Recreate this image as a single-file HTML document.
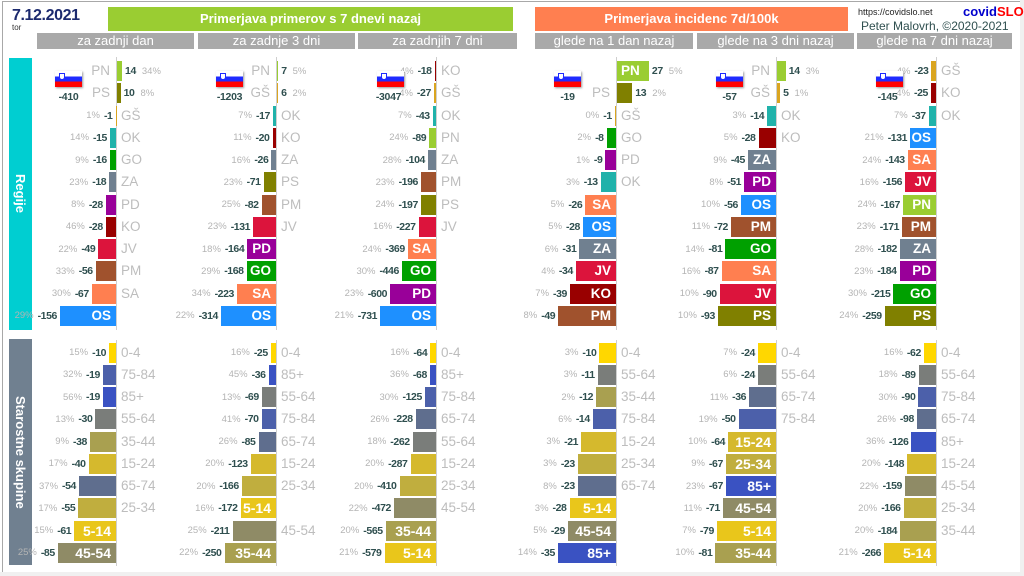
<!DOCTYPE html>
<html><head><meta charset="utf-8"><style>
*{margin:0;padding:0}
html,body{width:1024px;height:576px;overflow:hidden;background:#f0f0f0;font-family:"Liberation Sans",sans-serif}
#pg{position:absolute;left:0;top:0;width:1020px;height:572px;background:#fff}
#fr{position:absolute;left:2px;top:1px;width:1018px;height:571px;border-top:1px solid #a8a8a8;border-left:1px solid #a8a8a8;box-sizing:border-box}
.hd{position:absolute;top:7px;height:24px;color:#fff;font-weight:bold;font-size:13px;line-height:24px;text-align:center}
.sh{position:absolute;top:33px;height:16px;background:#a9a9a9;color:#fff;font-size:13px;line-height:16px;text-align:center}
.ax{position:absolute;width:1px;background:#cfcfcf}
.vb{position:absolute;left:9px;width:23px;display:flex;align-items:center;justify-content:center}
.vb span{writing-mode:vertical-rl;color:#fff;font-weight:bold;font-size:13px}
.col{position:absolute;width:0}
.rw{position:relative;height:22.25px}
.L,.R{position:absolute;top:0;height:20px;display:flex;align-items:center;white-space:nowrap}
.L{right:0}.R{left:1px}
.L i,.R i{font-style:normal;color:#b4b4b4;font-size:9.5px}
.L b,.R b{color:#2f4f4f;font-size:10.5px;letter-spacing:-0.4px}
.L i{margin-right:4px}.L b{margin-right:3px}
.R b{margin-left:3px}.R i{margin-left:6px}
s{text-decoration:none;display:block;height:20px;color:#fff;font-weight:bold;font-size:13.5px;line-height:20px;box-sizing:border-box;overflow:visible;white-space:nowrap}
.L s{text-align:right}
.L s:not(:empty){padding-right:5px}
.R s:not(:empty){padding-left:4px;text-align:left}
.rw u{position:absolute;left:5px;top:0;line-height:20px;color:#bdbdbd;font-size:13.5px;text-decoration:none;white-space:nowrap}
.rw u.l{left:auto;right:6px}
.ag s{font-size:14px}
.pn{background:#9acd32}.ps{background:#808000}.gs{background:#daa520}.ok{background:#20b2aa}.go{background:#00a000}.za{background:#708090}.pd{background:#990099}.ko{background:#990000}.jv{background:#dc143c}.pm{background:#a0522d}.sa{background:#ff7f50}.os{background:#1e90ff}
.a0{background:#ffd700}.a1{background:#e9c61b}.a2{background:#d5b92d}.a3{background:#c0ae3e}.a4{background:#a9a050}.a5{background:#8f8b66}.a6{background:#7a7d7a}.a7{background:#5f6e8e}.a8{background:#4c60aa}.a9{background:#3a52c2}
.fl{position:absolute;top:71px;width:27px;height:16px;background:linear-gradient(#fff 0,#fff 33%,#1f2bff 33%,#1f2bff 66%,#f00 66%);box-shadow:1px 1px 2px rgba(0,0,0,.4);z-index:3}
.ca{position:absolute;left:4px;top:2px;width:4px;height:5px;background:#fff;border:1px solid #1f2bff;border-radius:0 0 3px 3px}
.fn{position:absolute;top:91px;width:47px;text-align:center;font-weight:bold;font-size:10.5px;color:#2f4f4f;letter-spacing:-0.3px;z-index:3}
</style></head><body>
<div id="pg"></div><div id="fr"></div>

<div style="position:absolute;left:12px;top:7px;font-weight:bold;font-size:16px;color:#1c2a6e;letter-spacing:-0.4px">7.12.2021</div>
<div style="position:absolute;left:12px;top:23px;font-size:8px;color:#333">tor</div>

<div class="hd" style="left:108px;width:405px;background:#9acd32">Primerjava primerov s 7 dnevi nazaj</div>
<div class="hd" style="left:535px;width:313px;background:#ff7f50">Primerjava incidenc 7d/100k</div>

<div class="sh" style="left:37px;width:157px">za zadnji dan</div>
<div class="sh" style="left:198px;width:157px">za zadnje 3 dni</div>
<div class="sh" style="left:358px;width:159px">za zadnjih 7 dni</div>
<div class="sh" style="left:535px;width:158px">glede na 1 dan nazaj</div>
<div class="sh" style="left:697px;width:157px">glede na 3 dni nazaj</div>
<div class="sh" style="left:857px;width:155px">glede na 7 dni nazaj</div>

<div style="position:absolute;left:858px;top:7px;font-size:9px;color:#222">https://covidslo.net</div>
<div style="position:absolute;left:963px;top:4px;font-size:13px;font-weight:bold"><span style="color:#0000cd">covid</span><span style="color:#f00">SLO</span></div>
<div style="position:absolute;left:861px;top:19px;font-size:12px;color:#2f4f4f">Peter Malovrh, ©2020-2021</div>

<div class="vb" style="top:58px;height:272px;background:#00ced1"><span>Regije</span></div>
<div class="vb" style="top:339px;height:226px;background:#708090"><span>Starostne skupine</span></div>

<!-- axis lines -->
<div class="ax" style="left:116px;top:57px;height:273px"></div>
<div class="ax" style="left:276px;top:57px;height:273px"></div>
<div class="ax" style="left:436px;top:57px;height:273px"></div>
<div class="ax" style="left:616px;top:57px;height:273px"></div>
<div class="ax" style="left:776px;top:57px;height:273px"></div>
<div class="ax" style="left:936px;top:57px;height:273px"></div>
<div class="ax" style="left:116px;top:340px;height:226px"></div>
<div class="ax" style="left:276px;top:340px;height:226px"></div>
<div class="ax" style="left:436px;top:340px;height:226px"></div>
<div class="ax" style="left:616px;top:340px;height:226px"></div>
<div class="ax" style="left:776px;top:340px;height:226px"></div>
<div class="ax" style="left:936px;top:340px;height:226px"></div>

<!-- flags -->
<div class="fl" style="left:55px"><div class="ca"></div></div><div class="fn" style="left:45px">-410</div>
<div class="fl" style="left:216px"><div class="ca"></div></div><div class="fn" style="left:206px">-1203</div>
<div class="fl" style="left:377px"><div class="ca"></div></div><div class="fn" style="left:365px">-3047</div>
<div class="fl" style="left:554px"><div class="ca"></div></div><div class="fn" style="left:544px">-19</div>
<div class="fl" style="left:716px"><div class="ca"></div></div><div class="fn" style="left:706px">-57</div>
<div class="fl" style="left:876px"><div class="ca"></div></div><div class="fn" style="left:864px">-145</div>

<!-- P1 regions -->
<div class="col" style="left:116px;top:61px">
<div class="rw"><div class="R"><s class="pn" style="width:5px"></s><b>14</b><i>34%</i></div><u class="l">PN</u></div>
<div class="rw"><div class="R"><s class="ps" style="width:3.6px"></s><b>10</b><i>8%</i></div><u class="l">PS</u></div>
<div class="rw"><div class="L"><i>1%</i><b>-1</b><s class="gs" style="width:0.5px"></s></div><u>GŠ</u></div>
<div class="rw"><div class="L"><i>14%</i><b>-15</b><s class="ok" style="width:6px"></s></div><u>OK</u></div>
<div class="rw"><div class="L"><i>9%</i><b>-16</b><s class="go" style="width:6.2px"></s></div><u>GO</u></div>
<div class="rw"><div class="L"><i>23%</i><b>-18</b><s class="za" style="width:6.8px"></s></div><u>ZA</u></div>
<div class="rw"><div class="L"><i>8%</i><b>-28</b><s class="pd" style="width:10.2px"></s></div><u>PD</u></div>
<div class="rw"><div class="L"><i>46%</i><b>-28</b><s class="ko" style="width:10.2px"></s></div><u>KO</u></div>
<div class="rw"><div class="L"><i>22%</i><b>-49</b><s class="jv" style="width:17.7px"></s></div><u>JV</u></div>
<div class="rw"><div class="L"><i>33%</i><b>-56</b><s class="pm" style="width:20.3px"></s></div><u>PM</u></div>
<div class="rw"><div class="L"><i>30%</i><b>-67</b><s class="sa" style="width:24.2px"></s></div><u>SA</u></div>
<div class="rw"><div class="L"><i>29%</i><b>-156</b><s class="os" style="width:56px">OS</s></div></div>
</div>

<!-- P2 regions -->
<div class="col" style="left:276px;top:61px">
<div class="rw"><div class="R"><s class="pn" style="width:1.2px"></s><b>7</b><i>5%</i></div><u class="l">PN</u></div>
<div class="rw"><div class="R"><s class="gs" style="width:1.1px"></s><b>6</b><i>2%</i></div><u class="l">GŠ</u></div>
<div class="rw"><div class="L"><i>7%</i><b>-17</b><s class="ok" style="width:3px"></s></div><u>OK</u></div>
<div class="rw"><div class="L"><i>11%</i><b>-20</b><s class="ko" style="width:3.5px"></s></div><u>KO</u></div>
<div class="rw"><div class="L"><i>16%</i><b>-26</b><s class="za" style="width:4.6px"></s></div><u>ZA</u></div>
<div class="rw"><div class="L"><i>23%</i><b>-71</b><s class="ps" style="width:12.4px"></s></div><u>PS</u></div>
<div class="rw"><div class="L"><i>25%</i><b>-82</b><s class="pm" style="width:14.4px"></s></div><u>PM</u></div>
<div class="rw"><div class="L"><i>23%</i><b>-131</b><s class="jv" style="width:22.9px"></s></div><u>JV</u></div>
<div class="rw"><div class="L"><i>18%</i><b>-164</b><s class="pd" style="width:28.7px">PD</s></div></div>
<div class="rw"><div class="L"><i>29%</i><b>-168</b><s class="go" style="width:29.4px">GO</s></div></div>
<div class="rw"><div class="L"><i>34%</i><b>-223</b><s class="sa" style="width:39px">SA</s></div></div>
<div class="rw"><div class="L"><i>22%</i><b>-314</b><s class="os" style="width:55px">OS</s></div></div>
</div>

<!-- P3 regions -->
<div class="col" style="left:436px;top:61px">
<div class="rw"><div class="L"><i>4%</i><b>-18</b><s class="ko" style="width:1.4px"></s></div><u>KO</u></div>
<div class="rw"><div class="L"><i>4%</i><b>-27</b><s class="gs" style="width:2.1px"></s></div><u>GŠ</u></div>
<div class="rw"><div class="L"><i>7%</i><b>-43</b><s class="ok" style="width:3.3px"></s></div><u>OK</u></div>
<div class="rw"><div class="L"><i>24%</i><b>-89</b><s class="pn" style="width:6.8px"></s></div><u>PN</u></div>
<div class="rw"><div class="L"><i>28%</i><b>-104</b><s class="za" style="width:8px"></s></div><u>ZA</u></div>
<div class="rw"><div class="L"><i>23%</i><b>-196</b><s class="pm" style="width:15px"></s></div><u>PM</u></div>
<div class="rw"><div class="L"><i>24%</i><b>-197</b><s class="ps" style="width:15.1px"></s></div><u>PS</u></div>
<div class="rw"><div class="L"><i>16%</i><b>-227</b><s class="jv" style="width:17.4px"></s></div><u>JV</u></div>
<div class="rw"><div class="L"><i>24%</i><b>-369</b><s class="sa" style="width:28.2px">SA</s></div></div>
<div class="rw"><div class="L"><i>30%</i><b>-446</b><s class="go" style="width:34.1px">GO</s></div></div>
<div class="rw"><div class="L"><i>23%</i><b>-600</b><s class="pd" style="width:45.9px">PD</s></div></div>
<div class="rw"><div class="L"><i>21%</i><b>-731</b><s class="os" style="width:55.9px">OS</s></div></div>
</div>

<!-- P4 regions -->
<div class="col" style="left:616px;top:61px">
<div class="rw"><div class="R"><s class="pn" style="width:31.9px">PN</s><b>27</b><i>5%</i></div></div>
<div class="rw"><div class="R"><s class="ps" style="width:15.3px"></s><b>13</b><i>2%</i></div><u class="l">PS</u></div>
<div class="rw"><div class="L"><i>0%</i><b>-1</b><s class="gs" style="width:1.2px"></s></div><u>GŠ</u></div>
<div class="rw"><div class="L"><i>2%</i><b>-8</b><s class="go" style="width:9.4px"></s></div><u>GO</u></div>
<div class="rw"><div class="L"><i>1%</i><b>-9</b><s class="pd" style="width:10.6px"></s></div><u>PD</u></div>
<div class="rw"><div class="L"><i>3%</i><b>-13</b><s class="ok" style="width:15.3px"></s></div><u>OK</u></div>
<div class="rw"><div class="L"><i>5%</i><b>-26</b><s class="sa" style="width:30.7px">SA</s></div></div>
<div class="rw"><div class="L"><i>5%</i><b>-28</b><s class="os" style="width:33px">OS</s></div></div>
<div class="rw"><div class="L"><i>6%</i><b>-31</b><s class="za" style="width:36.6px">ZA</s></div></div>
<div class="rw"><div class="L"><i>4%</i><b>-34</b><s class="jv" style="width:40.1px">JV</s></div></div>
<div class="rw"><div class="L"><i>7%</i><b>-39</b><s class="ko" style="width:46px">KO</s></div></div>
<div class="rw"><div class="L"><i>8%</i><b>-49</b><s class="pm" style="width:57.8px">PM</s></div></div>
</div>

<!-- P5 regions -->
<div class="col" style="left:776px;top:61px">
<div class="rw"><div class="R"><s class="pn" style="width:8.75px"></s><b>14</b><i>3%</i></div><u class="l">PN</u></div>
<div class="rw"><div class="R"><s class="gs" style="width:3.1px"></s><b>5</b><i>1%</i></div><u class="l">GŠ</u></div>
<div class="rw"><div class="L"><i>3%</i><b>-14</b><s class="ok" style="width:8.75px"></s></div><u>OK</u></div>
<div class="rw"><div class="L"><i>5%</i><b>-28</b><s class="ko" style="width:17.5px"></s></div><u>KO</u></div>
<div class="rw"><div class="L"><i>9%</i><b>-45</b><s class="za" style="width:28.1px">ZA</s></div></div>
<div class="rw"><div class="L"><i>8%</i><b>-51</b><s class="pd" style="width:31.9px">PD</s></div></div>
<div class="rw"><div class="L"><i>10%</i><b>-56</b><s class="os" style="width:35px">OS</s></div></div>
<div class="rw"><div class="L"><i>11%</i><b>-72</b><s class="pm" style="width:45px">PM</s></div></div>
<div class="rw"><div class="L"><i>14%</i><b>-81</b><s class="go" style="width:50.6px">GO</s></div></div>
<div class="rw"><div class="L"><i>16%</i><b>-87</b><s class="sa" style="width:54.4px">SA</s></div></div>
<div class="rw"><div class="L"><i>10%</i><b>-90</b><s class="jv" style="width:56.25px">JV</s></div></div>
<div class="rw"><div class="L"><i>10%</i><b>-93</b><s class="ps" style="width:58.1px">PS</s></div></div>
</div>

<!-- P6 regions -->
<div class="col" style="left:936px;top:61px">
<div class="rw"><div class="L"><i>4%</i><b>-23</b><s class="gs" style="width:4.6px"></s></div><u>GŠ</u></div>
<div class="rw"><div class="L"><i>4%</i><b>-25</b><s class="ko" style="width:5px"></s></div><u>KO</u></div>
<div class="rw"><div class="L"><i>7%</i><b>-37</b><s class="ok" style="width:7.3px"></s></div><u>OK</u></div>
<div class="rw"><div class="L"><i>21%</i><b>-131</b><s class="os" style="width:25.9px">OS</s></div></div>
<div class="rw"><div class="L"><i>24%</i><b>-143</b><s class="sa" style="width:28.3px">SA</s></div></div>
<div class="rw"><div class="L"><i>16%</i><b>-156</b><s class="jv" style="width:30.9px">JV</s></div></div>
<div class="rw"><div class="L"><i>24%</i><b>-167</b><s class="pn" style="width:33.1px">PN</s></div></div>
<div class="rw"><div class="L"><i>23%</i><b>-171</b><s class="pm" style="width:33.9px">PM</s></div></div>
<div class="rw"><div class="L"><i>28%</i><b>-182</b><s class="za" style="width:36px">ZA</s></div></div>
<div class="rw"><div class="L"><i>23%</i><b>-184</b><s class="pd" style="width:36.4px">PD</s></div></div>
<div class="rw"><div class="L"><i>30%</i><b>-215</b><s class="go" style="width:42.6px">GO</s></div></div>
<div class="rw"><div class="L"><i>24%</i><b>-259</b><s class="ps" style="width:51.3px">PS</s></div></div>
</div>

<!-- P1 ages -->
<div class="col ag" style="left:116px;top:342.7px">
<div class="rw"><div class="L"><i>15%</i><b>-10</b><s class="a0" style="width:6.9px"></s></div><u>0-4</u></div>
<div class="rw"><div class="L"><i>32%</i><b>-19</b><s class="a8" style="width:13px"></s></div><u>75-84</u></div>
<div class="rw"><div class="L"><i>56%</i><b>-19</b><s class="a9" style="width:13px"></s></div><u>85+</u></div>
<div class="rw"><div class="L"><i>13%</i><b>-30</b><s class="a6" style="width:20.6px"></s></div><u>55-64</u></div>
<div class="rw"><div class="L"><i>9%</i><b>-38</b><s class="a4" style="width:26px"></s></div><u>35-44</u></div>
<div class="rw"><div class="L"><i>17%</i><b>-40</b><s class="a2" style="width:27.4px"></s></div><u>15-24</u></div>
<div class="rw"><div class="L"><i>37%</i><b>-54</b><s class="a7" style="width:37px"></s></div><u>65-74</u></div>
<div class="rw"><div class="L"><i>17%</i><b>-55</b><s class="a3" style="width:37.7px"></s></div><u>25-34</u></div>
<div class="rw"><div class="L"><i>15%</i><b>-61</b><s class="a1" style="width:41.8px">5-14</s></div></div>
<div class="rw"><div class="L"><i>25%</i><b>-85</b><s class="a5" style="width:58.2px">45-54</s></div></div>
</div>

<!-- P2 ages -->
<div class="col ag" style="left:276px;top:342.7px">
<div class="rw"><div class="L"><i>16%</i><b>-25</b><s class="a0" style="width:5.2px"></s></div><u>0-4</u></div>
<div class="rw"><div class="L"><i>45%</i><b>-36</b><s class="a9" style="width:7.4px"></s></div><u>85+</u></div>
<div class="rw"><div class="L"><i>13%</i><b>-69</b><s class="a6" style="width:14.2px"></s></div><u>55-64</u></div>
<div class="rw"><div class="L"><i>41%</i><b>-70</b><s class="a8" style="width:14.4px"></s></div><u>75-84</u></div>
<div class="rw"><div class="L"><i>26%</i><b>-85</b><s class="a7" style="width:17.5px"></s></div><u>65-74</u></div>
<div class="rw"><div class="L"><i>20%</i><b>-123</b><s class="a2" style="width:25.3px"></s></div><u>15-24</u></div>
<div class="rw"><div class="L"><i>20%</i><b>-166</b><s class="a3" style="width:34.2px"></s></div><u>25-34</u></div>
<div class="rw"><div class="L"><i>16%</i><b>-172</b><s class="a1" style="width:35.4px">5-14</s></div></div>
<div class="rw"><div class="L"><i>25%</i><b>-211</b><s class="a5" style="width:43.5px"></s></div><u>45-54</u></div>
<div class="rw"><div class="L"><i>22%</i><b>-250</b><s class="a4" style="width:51.5px">35-44</s></div></div>
</div>

<!-- P3 ages -->
<div class="col ag" style="left:436px;top:342.7px">
<div class="rw"><div class="L"><i>16%</i><b>-64</b><s class="a0" style="width:5.7px"></s></div><u>0-4</u></div>
<div class="rw"><div class="L"><i>36%</i><b>-68</b><s class="a9" style="width:6.1px"></s></div><u>85+</u></div>
<div class="rw"><div class="L"><i>30%</i><b>-125</b><s class="a8" style="width:11.1px"></s></div><u>75-84</u></div>
<div class="rw"><div class="L"><i>26%</i><b>-228</b><s class="a7" style="width:20.3px"></s></div><u>65-74</u></div>
<div class="rw"><div class="L"><i>18%</i><b>-262</b><s class="a6" style="width:23.3px"></s></div><u>55-64</u></div>
<div class="rw"><div class="L"><i>20%</i><b>-287</b><s class="a2" style="width:25.5px"></s></div><u>15-24</u></div>
<div class="rw"><div class="L"><i>20%</i><b>-410</b><s class="a3" style="width:36.5px"></s></div><u>25-34</u></div>
<div class="rw"><div class="L"><i>22%</i><b>-472</b><s class="a5" style="width:42px"></s></div><u>45-54</u></div>
<div class="rw"><div class="L"><i>20%</i><b>-565</b><s class="a4" style="width:50.3px">35-44</s></div></div>
<div class="rw"><div class="L"><i>21%</i><b>-579</b><s class="a1" style="width:51.5px">5-14</s></div></div>
</div>

<!-- P4 ages -->
<div class="col ag" style="left:616px;top:342.7px">
<div class="rw"><div class="L"><i>3%</i><b>-10</b><s class="a0" style="width:16.6px"></s></div><u>0-4</u></div>
<div class="rw"><div class="L"><i>3%</i><b>-11</b><s class="a6" style="width:18.3px"></s></div><u>55-64</u></div>
<div class="rw"><div class="L"><i>2%</i><b>-12</b><s class="a4" style="width:19.9px"></s></div><u>35-44</u></div>
<div class="rw"><div class="L"><i>6%</i><b>-14</b><s class="a8" style="width:23.2px"></s></div><u>75-84</u></div>
<div class="rw"><div class="L"><i>3%</i><b>-21</b><s class="a2" style="width:34.9px"></s></div><u>15-24</u></div>
<div class="rw"><div class="L"><i>3%</i><b>-23</b><s class="a3" style="width:38.2px"></s></div><u>25-34</u></div>
<div class="rw"><div class="L"><i>8%</i><b>-23</b><s class="a7" style="width:38.2px"></s></div><u>65-74</u></div>
<div class="rw"><div class="L"><i>3%</i><b>-28</b><s class="a1" style="width:46.5px">5-14</s></div></div>
<div class="rw"><div class="L"><i>5%</i><b>-29</b><s class="a5" style="width:48.1px">45-54</s></div></div>
<div class="rw"><div class="L"><i>14%</i><b>-35</b><s class="a9" style="width:58.1px">85+</s></div></div>
</div>

<!-- P5 ages -->
<div class="col ag" style="left:776px;top:342.7px">
<div class="rw"><div class="L"><i>7%</i><b>-24</b><s class="a0" style="width:18px"></s></div><u>0-4</u></div>
<div class="rw"><div class="L"><i>6%</i><b>-24</b><s class="a6" style="width:18px"></s></div><u>55-64</u></div>
<div class="rw"><div class="L"><i>11%</i><b>-36</b><s class="a7" style="width:26.9px"></s></div><u>65-74</u></div>
<div class="rw"><div class="L"><i>19%</i><b>-50</b><s class="a8" style="width:37.4px"></s></div><u>75-84</u></div>
<div class="rw"><div class="L"><i>10%</i><b>-64</b><s class="a2" style="width:47.9px">15-24</s></div></div>
<div class="rw"><div class="L"><i>9%</i><b>-67</b><s class="a3" style="width:50.1px">25-34</s></div></div>
<div class="rw"><div class="L"><i>23%</i><b>-67</b><s class="a9" style="width:50.1px">85+</s></div></div>
<div class="rw"><div class="L"><i>11%</i><b>-71</b><s class="a5" style="width:53.1px">45-54</s></div></div>
<div class="rw"><div class="L"><i>7%</i><b>-79</b><s class="a1" style="width:59.1px">5-14</s></div></div>
<div class="rw"><div class="L"><i>10%</i><b>-81</b><s class="a4" style="width:60.6px">35-44</s></div></div>
</div>

<!-- P6 ages -->
<div class="col ag" style="left:936px;top:342.7px">
<div class="rw"><div class="L"><i>16%</i><b>-62</b><s class="a0" style="width:12.1px"></s></div><u>0-4</u></div>
<div class="rw"><div class="L"><i>18%</i><b>-89</b><s class="a6" style="width:17.4px"></s></div><u>55-64</u></div>
<div class="rw"><div class="L"><i>30%</i><b>-90</b><s class="a8" style="width:17.6px"></s></div><u>75-84</u></div>
<div class="rw"><div class="L"><i>26%</i><b>-98</b><s class="a7" style="width:19.1px"></s></div><u>65-74</u></div>
<div class="rw"><div class="L"><i>36%</i><b>-126</b><s class="a9" style="width:24.6px"></s></div><u>85+</u></div>
<div class="rw"><div class="L"><i>20%</i><b>-148</b><s class="a2" style="width:28.9px"></s></div><u>15-24</u></div>
<div class="rw"><div class="L"><i>22%</i><b>-159</b><s class="a5" style="width:31px"></s></div><u>45-54</u></div>
<div class="rw"><div class="L"><i>20%</i><b>-166</b><s class="a3" style="width:32.4px"></s></div><u>25-34</u></div>
<div class="rw"><div class="L"><i>20%</i><b>-184</b><s class="a4" style="width:35.9px"></s></div><u>35-44</u></div>
<div class="rw"><div class="L"><i>21%</i><b>-266</b><s class="a1" style="width:51.9px">5-14</s></div></div>
</div>

</body></html>
